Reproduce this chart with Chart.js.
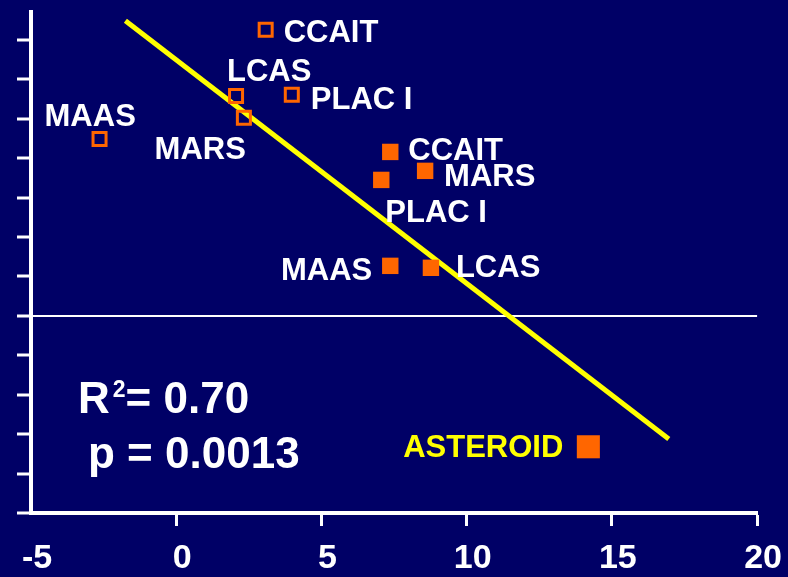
<!DOCTYPE html>
<html>
<head>
<meta charset="utf-8">
<script src="https://cdn.jsdelivr.net/npm/chart.js@4.4.1/dist/chart.umd.min.js"></script>
<style>
  html, body { margin: 0; padding: 0; background: #000066; }
  #wrap { width: 788px; height: 577px; }
</style>
</head>
<body>
<div id="wrap"><canvas id="c" width="788" height="577"></canvas></div>
<script>
// Baseline (open squares)
const openNames = ['CCAIT', 'LCAS', 'PLAC I', 'MARS', 'MAAS'];
const openX = [3.08, 2.06, 3.98, 2.33, -2.64];
const openY = [7.26, 5.58, 5.61, 5.03, 4.49];

// Follow-up (filled squares)
const filledNames = ['CCAIT', 'MARS', 'PLAC I', 'MAAS', 'LCAS'];
const filledX = [7.37, 8.57, 7.06, 7.37, 8.77];
const filledY = [4.16, 3.68, 3.45, 1.27, 1.22];

// ASTEROID
const asteroidNames = ['ASTEROID'];
const asteroidX = [14.19];
const asteroidY = [-3.32];

// Regression line end points
const fitX = [-1.75, 16.96];
const fitY = [7.49, -3.12];

// Axis ticks
const xTicks = [-5, 0, 5, 10, 15, 20];
const yTicks = [-5, -4, -3, -2, -1, 0, 1, 2, 3, 4, 5, 6, 7];

// Fit statistics
const r2Text = '0.70';
const pText = '0.0013';

// Label placement, in pixels from each marker (separate from the data)
const openLabelPos = [
  { dx: 18, dy: 12, align: 'left' },
  { dx: -9, dy: -15, align: 'left' },
  { dx: 19, dy: 14, align: 'left' },
  { dx: 2, dy: 41, align: 'right' },
  { dx: -55, dy: -13, align: 'left' }
];
const filledLabelPos = [
  { dx: 18, dy: 8, align: 'left' },
  { dx: 19, dy: 15, align: 'left' },
  { dx: 4, dy: 42, align: 'left' },
  { dx: -18, dy: 14, align: 'right' },
  { dx: 25, dy: 9, align: 'left' }
];
const asteroidLabelPos = [{ dx: -25, dy: 10, align: 'right' }];

const BG = '#000066';
const ORANGE = '#ff6600';
const YELLOW = '#ffff00';
const WHITE = '#ffffff';
const FONT = '"Liberation Sans", Arial, sans-serif';

const toPoints = (xs, ys) => xs.map((x, i) => ({ x: x, y: ys[i] }));

const background = {
  id: 'background',
  beforeDraw(chart) {
    const ctx = chart.ctx;
    ctx.save();
    ctx.fillStyle = BG;
    ctx.fillRect(0, 0, chart.width, chart.height);
    ctx.restore();
  }
};

const pointLabels = {
  id: 'pointLabels',
  afterDatasetsDraw(chart) {
    const ctx = chart.ctx;
    ctx.save();
    ctx.font = 'bold 31px ' + FONT;
    ctx.textBaseline = 'alphabetic';
    chart.data.datasets.forEach((ds, di) => {
      if (!ds.names) return;
      const meta = chart.getDatasetMeta(di);
      meta.data.forEach((el, i) => {
        const pos = ds.labelPos[i];
        ctx.fillStyle = ds.labelColor;
        ctx.textAlign = pos.align;
        ctx.fillText(ds.names[i], el.x + pos.dx, el.y + pos.dy);
      });
    });
    ctx.restore();
  }
};

const statsText = {
  id: 'statsText',
  afterDraw(chart) {
    const ctx = chart.ctx;
    ctx.save();
    ctx.fillStyle = WHITE;
    ctx.textBaseline = 'alphabetic';
    ctx.textAlign = 'left';
    ctx.font = 'bold 44px ' + FONT;
    let x = 78;
    ctx.fillText('R', x, 413);
    x += ctx.measureText('R').width + 3;
    ctx.font = 'bold 23px ' + FONT;
    ctx.fillText('2', x, 397);
    x += ctx.measureText('2').width;
    ctx.font = 'bold 44px ' + FONT;
    ctx.fillText('= ' + r2Text, x, 413);
    ctx.fillText('p = ' + pText, 88, 468);
    ctx.restore();
  }
};

new Chart(document.getElementById('c'), {
  type: 'scatter',
  data: {
    datasets: [
      {
        data: toPoints(openX, openY),
        names: openNames,
        labelPos: openLabelPos,
        labelColor: WHITE,
        pointStyle: 'rect',
        pointRadius: 9.2,
        backgroundColor: 'rgba(0,0,0,0)',
        borderColor: ORANGE,
        borderWidth: 3,
        order: 0
      },
      {
        data: toPoints(filledX, filledY),
        names: filledNames,
        labelPos: filledLabelPos,
        labelColor: WHITE,
        pointStyle: 'rect',
        pointRadius: 11.6,
        backgroundColor: ORANGE,
        borderColor: ORANGE,
        borderWidth: 0,
        order: 0
      },
      {
        data: toPoints(asteroidX, asteroidY),
        names: asteroidNames,
        labelPos: asteroidLabelPos,
        labelColor: YELLOW,
        pointStyle: 'rect',
        pointRadius: 16.3,
        backgroundColor: ORANGE,
        borderColor: ORANGE,
        borderWidth: 0,
        order: 0
      },
      {
        type: 'line',
        data: toPoints(fitX, fitY),
        borderColor: YELLOW,
        borderWidth: 5,
        pointRadius: 0,
        fill: false,
        tension: 0,
        order: 10
      }
    ]
  },
  options: {
    responsive: false,
    animation: false,
    devicePixelRatio: 1,
    layout: { autoPadding: false, padding: { left: 17, top: 12, right: 29, bottom: 0 } },
    plugins: {
      legend: { display: false },
      tooltip: { enabled: false }
    },
    scales: {
      x: {
        type: 'linear',
        min: -5,
        max: 20,
        afterBuildTicks: s => { s.ticks = xTicks.map(v => ({ value: v })); },
        afterFit: s => { s.height = 64; },
        border: { color: WHITE, width: 4 },
        grid: {
          drawOnChartArea: false,
          drawTicks: true,
          tickLength: 13,
          tickWidth: 3,
          tickColor: c => (c.tick && c.tick.value === -5 ? 'rgba(0,0,0,0)' : WHITE)
        },
        ticks: {
          color: WHITE,
          font: { family: FONT, size: 34, weight: 'bold' },
          padding: 12,
          labelOffset: 6,
          maxRotation: 0,
          autoSkip: false,
          callback: v => String(v)
        }
      },
      y: {
        type: 'linear',
        min: -5,
        max: 7.71,
        afterBuildTicks: s => { s.ticks = yTicks.map(v => ({ value: v })); },
        afterFit: s => { s.width = 14; },
        border: { color: WHITE, width: 4 },
        grid: {
          drawOnChartArea: true,
          color: c => (c.tick && c.tick.value === 0 ? WHITE : 'rgba(0,0,0,0)'),
          lineWidth: 2,
          drawTicks: true,
          tickLength: 14,
          tickWidth: 3,
          tickColor: WHITE
        },
        ticks: { display: false }
      }
    }
  },
  plugins: [background, pointLabels, statsText]
});
</script>
</body>
</html>
